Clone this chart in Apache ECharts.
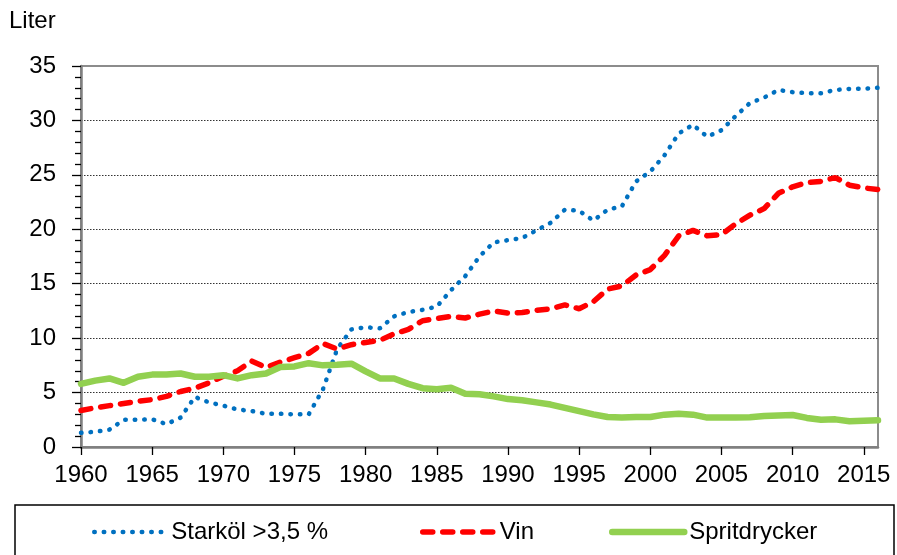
<!DOCTYPE html>
<html>
<head>
<meta charset="utf-8">
<title>Liter</title>
<script src="https://cdn.jsdelivr.net/npm/echarts@6/dist/echarts.min.js"></script>
<style>
    html, body { margin: 0; padding: 0; background: #fff; }
    #chart { width: 897px; height: 555px; }
</style>
</head>
<body>
<div id="chart"></div>
<script>
var years = [];
for (var y = 1960; y <= 2016; y++) years.push(y);

var yearTicks = [1960, 1965, 1970, 1975, 1980, 1985, 1990, 1995, 2000, 2005, 2010, 2015];

var starkol = [1.3, 1.4, 1.6, 2.5, 2.5, 2.55, 2.1, 2.7, 4.6, 4.1,
               3.8, 3.45, 3.3, 3.05, 3.05, 3.0, 3.0, 5.3, 9.0, 10.8,
               11.0, 10.9, 12.0, 12.4, 12.6, 12.9, 14.4, 15.7, 17.5, 18.8,
               19.0, 19.2, 19.9, 20.6, 21.8, 21.7, 20.8, 21.8, 22.1, 24.4,
               25.3, 26.8, 28.8, 29.6, 28.5, 29.1, 30.4, 31.6, 32.1, 32.8,
               32.6, 32.5, 32.5, 32.8, 32.9, 32.9, 33.0];

var vin = [3.35, 3.6, 3.8, 4.0, 4.2, 4.35, 4.65, 5.1, 5.4, 5.9,
           6.5, 7.0, 7.9, 7.3, 7.8, 8.2, 8.6, 9.5, 9.0, 9.4,
           9.6, 9.8, 10.4, 10.8, 11.6, 11.8, 12.0, 11.85, 12.2, 12.5,
           12.3, 12.35, 12.55, 12.7, 13.05, 12.7, 13.35, 14.5, 14.8, 15.8,
           16.3, 17.6, 19.4, 19.9, 19.4, 19.5, 20.5, 21.3, 21.9, 23.3,
           23.9, 24.3, 24.4, 24.75, 24.05, 23.8, 23.65];

var sprit = [5.8, 6.1, 6.3, 5.9, 6.45, 6.65, 6.65, 6.75, 6.45, 6.45,
             6.6, 6.3, 6.6, 6.75, 7.35, 7.4, 7.7, 7.5, 7.55, 7.65,
             6.95, 6.3, 6.3, 5.8, 5.4, 5.3, 5.45, 4.9, 4.85, 4.65,
             4.4, 4.3, 4.1, 3.9, 3.6, 3.3, 3.0, 2.75, 2.7, 2.75,
             2.75, 2.97, 3.05, 2.97, 2.7, 2.7, 2.7, 2.73, 2.85, 2.9,
             2.94, 2.67, 2.5, 2.54, 2.36, 2.42, 2.45];

var names = ['Starköl >3,5 %', 'Vin', 'Spritdrycker'];

var font = '"Liberation Sans", Arial, sans-serif';

// line looks, shared by the series and their legend icons
var looks = [
    { color: '#0070C0', width: 4.5, type: [0.5, 9], cap: 'round' },
    { color: '#FF0000', width: 5.5, type: [10, 10], cap: 'round' },
    { color: '#92D050', width: 6.5, type: 'solid', cap: 'round', join: 'round' }
];

function pairs(values) {
    return years.map(function(yr, i) { return [yr, values[i]]; });
}

function legendAt(left, idx) {
    return {
        left: left,
        top: 520,
        padding: 0,
        itemWidth: 72,
        itemHeight: 14,
        data: [names[idx]],
        selectedMode: false,
        itemStyle: { opacity: 0 },
        lineStyle: looks[idx],
        textStyle: { fontFamily: font, fontSize: 24, color: '#000' }
    };
}

function lineSeries(idx, values) {
    return {
        name: names[idx],
        type: 'line',
        symbol: 'none',
        data: pairs(values),
        lineStyle: looks[idx],
        itemStyle: { color: looks[idx].color }
    };
}

var chart = echarts.init(document.getElementById('chart'), null, { renderer: 'canvas' });

var option = {
    animation: false,
    backgroundColor: '#fff',
    title: {
        text: 'Liter',
        left: 9,
        top: 9,
        padding: 0,
        textStyle: { fontFamily: font, fontSize: 24, fontWeight: 'normal', color: '#000' }
    },
    legend: [
        legendAt(92, 0),
        legendAt(420, 1),
        legendAt(609, 2)
    ],
    graphic: [{
        type: 'rect',
        shape: { x: 15, y: 505, width: 879, height: 70 },
        style: { fill: 'none', stroke: '#000', lineWidth: 1.5 },
        silent: true
    }],
    grid: {
        left: 81,
        right: 19,
        top: 66,
        bottom: 108,
        show: true,
        borderColor: '#8c8c8c',
        borderWidth: 2
    },
    xAxis: {
        type: 'value',
        min: 1960,
        max: 2016,
        interval: 5,
        axisLine: { lineStyle: { color: '#7f7f7f', width: 2.5 } },
        axisTick: { customValues: yearTicks, length: 8, lineStyle: { color: '#000', width: 1.3 } },
        axisLabel: {
            customValues: yearTicks,
            margin: 16,
            fontFamily: font,
            fontSize: 24,
            color: '#000',
            formatter: function(value) { return String(value); }
        },
        splitLine: { show: false }
    },
    yAxis: {
        type: 'value',
        min: 0,
        max: 35,
        interval: 5,
        axisLine: { show: true, lineStyle: { color: '#7f7f7f', width: 2.5 } },
        axisTick: { show: true, length: 9, lineStyle: { color: '#000', width: 1.3 } },
        minorTick: { show: true, splitNumber: 5, length: 6, lineStyle: { color: '#000', width: 1.3 } },
        axisLabel: {
            margin: 25,
            fontFamily: font,
            fontSize: 24,
            color: '#000'
        },
        splitLine: {
            show: true,
            showMinLine: false,
            showMaxLine: false,
            lineStyle: { color: '#333', width: 1, type: [1.5, 1.5] }
        }
    },
    series: [
        lineSeries(0, starkol),
        lineSeries(1, vin),
        lineSeries(2, sprit)
    ]
};

chart.setOption(option);
</script>
</body>
</html>
